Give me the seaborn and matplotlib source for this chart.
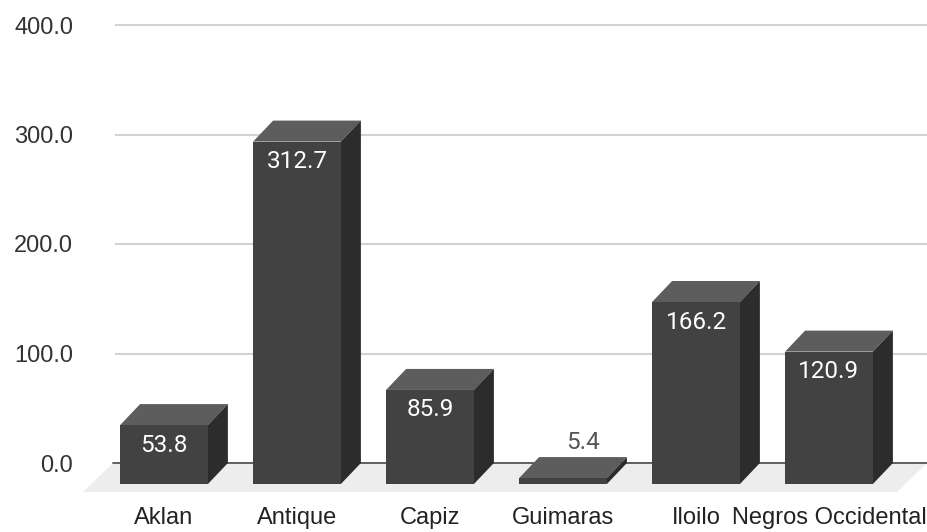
import matplotlib
matplotlib.use("Agg")
import matplotlib.pyplot as plt
import pandas as pd
import seaborn as sns
from matplotlib.patches import Polygon
from matplotlib.transforms import ScaledTranslation

# Data
provinces = ["Aklan", "Antique", "Capiz", "Guimaras", "Iloilo", "Negros Occidental"]
values = [53.8, 312.7, 85.9, 5.4, 166.2, 120.9]
y_ticks = [0, 100, 200, 300, 400]

df = pd.DataFrame({"province": provinces, "value": values})

sns.set_style("white")
plt.rcParams["font.family"] = ["Liberation Sans", "DejaVu Sans"]

W, H, DPI = 927, 532, 100
fig = plt.figure(figsize=(W / DPI, H / DPI), dpi=DPI)
ax = fig.add_axes([115 / W, 69 / H, 812 / W, 460 / H])

# 3D look: depth of bars and floor in pixels
DX, DY = 20, 21
FDX, FDY = 30, 29
FRONT, TOP, SIDE = "#424242", "#5d5d5d", "#2c2c2c"

sns.barplot(data=df, x="province", y="value", color=FRONT, saturation=1,
            width=0.66, ax=ax, zorder=4, linewidth=0, edgecolor="none")

px_per_cat = 133.0
x_left = -(184 - 115) / px_per_cat
ax.set_xlim(x_left, x_left + 812 / px_per_cat)
ax.set_ylim(0, 460 / 1.095)
ax.set_yticks(y_ticks)
ax.set_yticklabels([f"{t:.1f}" for t in y_ticks])

for s in ax.spines.values():
    s.set_visible(False)
ax.grid(axis="y", color="#d2d2d2", lw=1.5, zorder=0)
ax.set_axisbelow(True)
ax.set_xlabel("")
ax.set_ylabel("")
ax.tick_params(axis="y", length=0, pad=30, labelsize=17, labelcolor="#333333")
ax.tick_params(axis="x", length=0, pad=31.5, labelsize=17, labelcolor="#222222")


def shifted(x, y, ox, oy):
    """Data point moved by (ox, oy) display pixels, back in data units."""
    d = ax.transData.transform((x, y))
    return tuple(ax.transData.inverted().transform((d[0] + ox, d[1] + oy)))


# Floor
xl = shifted(ax.get_xlim()[0], 0, -2, 0)[0]
xr = ax.get_xlim()[1]
floor = Polygon([(xl, 0), (xr, 0), shifted(xr, 0, -FDX, -FDY), shifted(xl, 0, -FDX, -FDY)],
                closed=True, facecolor="#ededed", edgecolor="none", zorder=1, clip_on=False)
ax.add_patch(floor)
ax.plot([xl, xr], [0, 0], color="#555555", lw=1.3, zorder=1.5, clip_on=False)

front_shift = ScaledTranslation(-DX / DPI, -DY / DPI, fig.dpi_scale_trans)
for bar, v in zip(list(ax.patches)[:len(values)], values):
    x0, w, h = bar.get_x(), bar.get_width(), bar.get_height()
    x1 = x0 + w
    top = Polygon([(x0, h), (x1, h), shifted(x1, h, -DX, -DY), shifted(x0, h, -DX, -DY)],
                  closed=True, facecolor=TOP, edgecolor="none", zorder=3, clip_on=False)
    side = Polygon([(x1, h), (x1, 0), shifted(x1, 0, -DX, -DY), shifted(x1, h, -DX, -DY)],
                   closed=True, facecolor=SIDE, edgecolor="none", zorder=3, clip_on=False)
    ax.add_patch(top)
    ax.add_patch(side)
    bar.set_transform(ax.transData + front_shift)
    bar.set_clip_on(False)

    xc = x0 + w / 2
    if h * 1.095 > 40:
        ax.annotate(f"{v:.1f}", xy=(xc, h), xytext=(-DX, -41), textcoords="offset pixels",
                    ha="center", va="center", color="white", fontsize=17.5,
                    family=["Roboto", "DejaVu Sans"], zorder=6)
    else:
        ax.annotate(f"{v:.1f}", xy=(xc, h), xytext=(0, 15), textcoords="offset pixels",
                    ha="center", va="center", color="#555555", fontsize=17.5,
                    family=["Roboto", "DejaVu Sans"], zorder=6)

# x labels sit under the front faces
label_shift = ScaledTranslation(-DX / DPI, 0, fig.dpi_scale_trans)
for lab in ax.get_xticklabels():
    lab.set_transform(lab.get_transform() + label_shift)

fig.savefig("out.png", dpi=DPI, facecolor="white")
